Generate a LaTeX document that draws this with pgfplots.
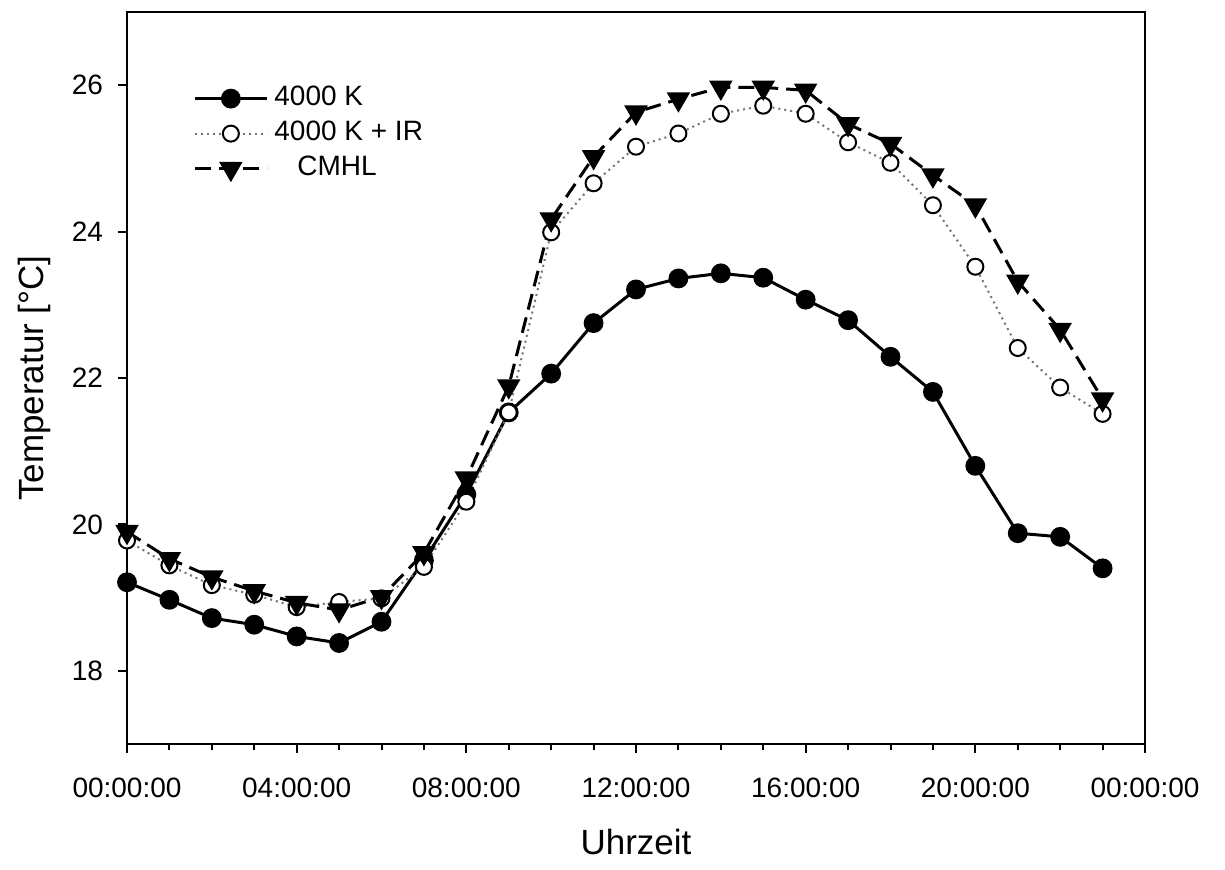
\documentclass[border=0pt]{standalone}
\usepackage{fontspec}
\setmainfont{Liberation Sans}
\usepackage{pgfplots}
\pgfplotsset{compat=1.18}
\usepackage{pgfplotstable}

\pgfplotstableread{
h   k   ir    cm
0  19.21 19.78 19.90
1  18.97 19.44 19.53
2  18.72 19.17 19.28
3  18.63 19.04 19.09
4  18.47 18.87 18.93
5  18.38 18.94 18.83
6  18.67 18.99 19.01
7  19.51 19.42 19.61
8  20.41 20.31 20.63
9  21.53 21.53 21.89
10 22.06 23.99 24.17
11 22.75 24.66 25.02
12 23.21 25.16 25.63
13 23.36 25.34 25.81
14 23.43 25.61 25.97
15 23.37 25.72 25.97
16 23.07 25.61 25.93
17 22.79 25.22 25.47
18 22.29 24.94 25.20
19 21.81 24.36 24.77
20 20.80 23.52 24.36
21 19.88 22.41 23.32
22 19.83 21.87 22.66
23 19.40 21.51 21.71
}\tbl

\begin{document}
\begin{tikzpicture}
\begin{axis}[
  scale only axis,
  width=509pt, height=366pt,
  xmin=0, xmax=24, ymin=17, ymax=27,
  axis line style={line width=1.3pt},
  xtick={0,4,8,12,16,20,24},
  xticklabels={00:00:00,04:00:00,08:00:00,12:00:00,16:00:00,20:00:00,00:00:00},
  minor xtick={1,2,3,5,6,7,9,10,11,13,14,15,17,18,19,21,22,23},
  ytick={18,20,22,24,26},
  xtick pos=bottom, ytick pos=left,
  tick align=outside,
  major tick length=4.5pt, minor tick length=3pt,
  tick style={line width=1pt, black},
  /pgf/number format/assume math mode=true,
  ticklabel style={font=\fontsize{14}{17}\selectfont},
  xticklabel style={yshift=-9pt},
  yticklabel style={xshift=-4pt},
  xlabel={Uhrzeit}, ylabel={Temperatur [°C]},
  every axis x label/.style={at={(axis description cs:0.5,-0.134)},anchor=center,font=\fontsize{17.5}{20}\selectfont},
  every axis y label/.style={at={(axis description cs:-0.0914,0.5)},rotate=90,anchor=center,font=\fontsize{17.5}{20}\selectfont},
  legend style={at={(axis description cs:0.0648,0.900)}, anchor=north west,
    draw=none, fill=none, inner sep=0pt, row sep=4.5pt,
    font=\fontsize{14}{17}\selectfont,
    nodes={inner sep=0pt, text height=10pt, text depth=3pt}},
  legend cell align=left,
  legend image code/.code={\draw[mark repeat=2,mark phase=2,#1] plot coordinates {(0pt,0pt)(18pt,0pt)(36pt,0pt)};},
]
\addplot[black, line width=1.5pt, mark=*, mark size=4.2pt, mark options={solid, fill=black}] table[x=h, y=k] {\tbl};
\addlegendentry{\hspace{3pt}4000 K}
\addplot[black!55, line width=1pt, dotted, mark=*, mark size=4pt, mark options={solid, fill=white, draw=black, line width=1pt}] table[x=h, y=ir] {\tbl};
\addlegendentry{\hspace{3pt}4000 K + IR}
\addplot[black, line width=1.5pt, dash pattern=on 8pt off 4pt, mark=triangle*, mark size=5.3pt, mark options={solid, fill=black, rotate=180}] table[x=h, y=cm] {\tbl};
\addlegendentry{\hspace{14.5pt}CMHL}
\end{axis}
\pgfresetboundingbox
\path (current axis.south west) ++(-63.5pt,-62.5pt) coordinate (bbA);
\path (current axis.north east) ++(40pt,6pt) coordinate (bbB);
\useasboundingbox (bbA) rectangle (bbB);
\end{tikzpicture}
\end{document}
